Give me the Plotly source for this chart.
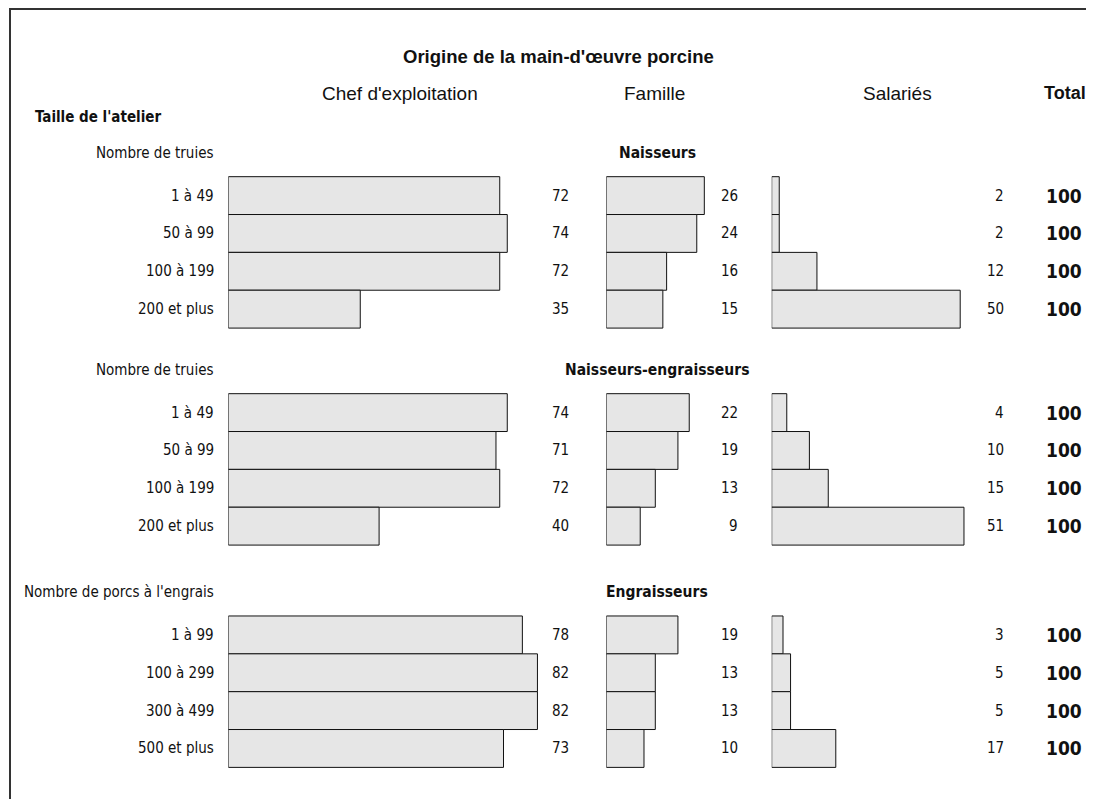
import plotly.graph_objects as go

# ---------------- data ----------------
title = "Origine de la main-d'œuvre porcine"
col_headers = ["Chef d'exploitation", "Famille", "Salariés", "Total"]
row_header = "Taille de l'atelier"

section_names = ["Naisseurs", "Naisseurs-engraisseurs", "Engraisseurs"]
section_units = ["Nombre de truies", "Nombre de truies", "Nombre de porcs à l'engrais"]
size_classes = [
    ["1 à 49", "50 à 99", "100 à 199", "200 et plus"],
    ["1 à 49", "50 à 99", "100 à 199", "200 et plus"],
    ["1 à 99", "100 à 299", "300 à 499", "500 et plus"],
]
chef = [[72, 74, 72, 35], [74, 71, 72, 40], [78, 82, 82, 73]]
famille = [[26, 24, 16, 15], [22, 19, 13, 9], [19, 13, 13, 10]]
salaries = [[2, 2, 12, 50], [4, 10, 15, 51], [3, 5, 5, 17]]
total = [[100, 100, 100, 100], [100, 100, 100, 100], [100, 100, 100, 100]]

# ---------------- layout constants (figure pixels) ----------------
W, H = 1094, 799
PX_PER_UNIT = 3.77
COL_LEFT = [220.3, 598.3, 763.7]
COL_RANGE = [100, 100, 80]
SECTION_FIRST_ROW = [187.6, 404.6, 626.9]
ROW_PITCH = 37.85
HEADER_OFFSET = 42.7

NARROW = "DejaVu Sans Condensed, Liberation Sans Narrow, Arial Narrow, sans-serif"
SANS = "Liberation Sans, Arial, Helvetica, sans-serif"
FILL = "#e6e6e6"
INK = "#111111"


def px(x):
    return x / W


# y positions of rows (computed from section/row index)
row_y = [[SECTION_FIRST_ROW[s] + i * ROW_PITCH for i in range(len(size_classes[s]))]
         for s in range(len(size_classes))]
flat_y = [y for ys in row_y for y in ys]

fig = go.Figure()
series = [chef, famille, salaries]
axes = ["x", "x2", "x3"]
for k, (vals, ax) in enumerate(zip(series, axes)):
    flat = [v for vs in vals for v in vs]
    fig.add_trace(go.Bar(
        x=flat, y=flat_y, orientation="h", xaxis=ax, yaxis="y",
        width=ROW_PITCH,
        marker=dict(color=FILL, line=dict(color=INK, width=1)),
        hoverinfo="x", showlegend=False,
    ))

layout_axes = {}
for k, ax in enumerate(["xaxis", "xaxis2", "xaxis3"]):
    d0 = COL_LEFT[k]
    d1 = d0 + COL_RANGE[k] * PX_PER_UNIT
    cfg = dict(domain=[px(d0), px(d1)], range=[0, COL_RANGE[k]], visible=False,
               fixedrange=True)
    if k > 0:
        cfg["anchor"] = "y"
    layout_axes[ax] = cfg

annotations = []


def ann(text, x, y, size, family, bold=False, xanchor="center", yref="y"):
    t = f"<b>{text}</b>" if bold else text
    annotations.append(dict(
        text=t, x=px(x), y=y, xref="paper", yref=yref, xanchor=xanchor,
        yanchor="middle", showarrow=False,
        font=dict(size=size, family=family, color=INK),
    ))


# title and column headers
ann(title, 550, 48, 18.5, SANS, bold=True)
ann(col_headers[0], 392, 85, 19, SANS)
ann(col_headers[1], 646, 85, 19, SANS)
ann(col_headers[2], 889, 85, 19, SANS)
ann(col_headers[3], 1080, 85, 18, SANS, bold=True, xanchor="right")
ann(row_header, 25, 109, 15, NARROW, bold=True, xanchor="left")

for s in range(len(section_names)):
    hy = SECTION_FIRST_ROW[s] - HEADER_OFFSET
    ann(section_units[s], 208, hy, 15, NARROW, xanchor="right")
    ann(section_names[s], 649, hy, 15.5, NARROW, bold=True)
    for i, lab in enumerate(size_classes[s]):
        y = row_y[s][i]
        ann(lab, 208, y, 15, NARROW, xanchor="right")
        ann(str(chef[s][i]), 542, y, 15, NARROW, xanchor="left")
        ann(str(famille[s][i]), 732, y, 15, NARROW, xanchor="right")
        ann(str(salaries[s][i]), 998, y, 15, NARROW, xanchor="right")
        ann(str(total[s][i]), 1076, y, 19, NARROW, bold=True, xanchor="right")

fig.update_layout(
    width=W, height=H, autosize=False,
    margin=dict(l=0, r=0, t=0, b=0, pad=0),
    paper_bgcolor="white", plot_bgcolor="rgba(0,0,0,0)",
    barmode="overlay",
    yaxis=dict(domain=[0, 1], range=[H, 0], visible=False, fixedrange=True),
    annotations=annotations,
    shapes=[dict(type="rect", xref="paper", yref="paper",
                 x0=px(2), x1=1.2, y0=1 - 1 / H, y1=-0.2,
                 line=dict(color="#333333", width=2), layer="above")],
    **layout_axes,
)

fig.write_html("out.html", config={"displayModeBar": False})
